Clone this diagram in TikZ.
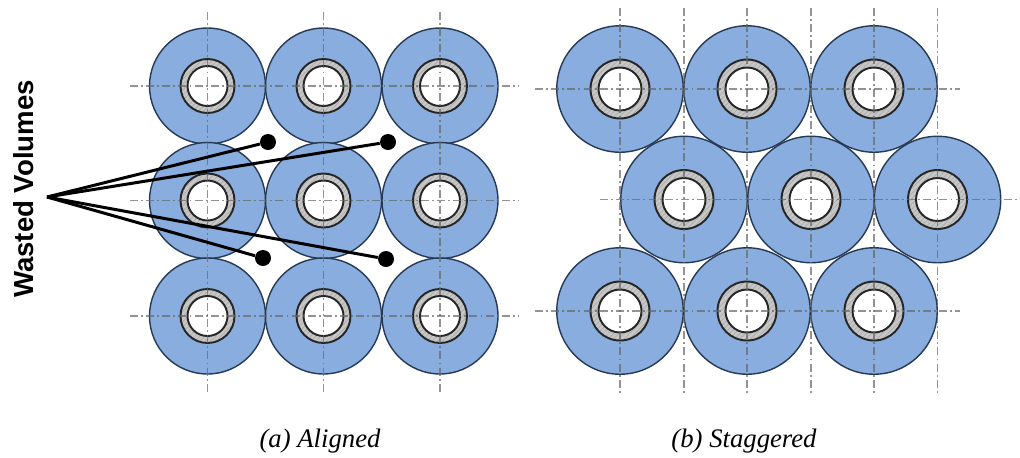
\documentclass[tikz,border=0pt]{standalone}
\usepackage{fontspec}
\setmainfont{Liberation Serif}
\setsansfont{Liberation Sans}
\usetikzlibrary{patterns}
\definecolor{pipeblue}{RGB}{137,173,222}
\definecolor{pipeline}{RGB}{38,58,85}

\begin{document}
\begin{tikzpicture}[
    x=0.02cm, y=-0.02cm,
    finA/.style={circle, draw=pipeline, line width=0.8pt, fill=pipeblue, minimum size=2.32cm, inner sep=0pt},
    finB/.style={circle, draw=pipeline, line width=0.8pt, fill=pipeblue, minimum size=2.53cm, inner sep=0pt},
    wall/.style={circle, draw=black!85, line width=1.1pt, preaction={fill=black!22}, pattern=north east lines, pattern color=black!32, inner sep=0pt},
    bore/.style={circle, draw=black!85, line width=1.1pt, fill=white, inner sep=0pt},
    axisline/.style={black!60, opacity=0.7, line width=0.6pt, dash pattern=on 4.5pt off 1.8pt on 1.1pt off 1.8pt},
    leader/.style={black, line width=1.7pt},
    blob/.style={circle, fill=black, minimum size=0.32cm, inner sep=0pt},
    subcap/.style={font=\itshape\fontsize{15.2}{18}\selectfont}
]
\useasboundingbox (0,0) rectangle (1020,457);

% Aligned bank
\foreach \px/\pxn in {207.5/1, 323.5/2, 440/3} {
  \foreach \py/\pyn in {86/1, 200.5/2, 316/3} {
    \node[finA] (al\pxn\pyn) at (\px,\py) {};
    \node[wall, minimum size=1.08cm] at (al\pxn\pyn) {};
    \node[bore, minimum size=0.8cm] at (al\pxn\pyn) {};
  }
}
\foreach \px in {207.5, 323.5, 440} \draw[axisline] (\px,12) -- (\px,392);
\foreach \py in {86, 200.5, 316} \draw[axisline] (130,\py) -- (518,\py);

% Staggered bank
\foreach \px/\pxn in {620/1, 747/2, 874/3} {
  \foreach \py/\pyn in {89/1, 311/3} {
    \node[finB] (st\pxn\pyn) at (\px,\py) {};
    \node[wall, minimum size=1.18cm] at (st\pxn\pyn) {};
    \node[bore, minimum size=0.86cm] at (st\pxn\pyn) {};
  }
}
\foreach \px/\pxn in {684/1, 811/2, 937.5/3} {
  \node[finB] (st\pxn2) at (\px,199.5) {};
  \node[wall, minimum size=1.18cm] at (st\pxn2) {};
  \node[bore, minimum size=0.86cm] at (st\pxn2) {};
}
\foreach \px in {620, 684, 747, 811, 874, 937.5} \draw[axisline] (\px,8) -- (\px,395);
\draw[axisline] (535,89) -- (960,89);
\draw[axisline] (600,199.5) -- (1020,199.5);
\draw[axisline] (535,311) -- (960,311);

% Wasted volumes
\node[font=\sffamily\bfseries\fontsize{15.7}{18}\selectfont, rotate=90] (wasted) at (24,189) {Wasted Volumes};
\coordinate (apex) at (47,197);
\node[blob] (w1) at (268,142) {};
\node[blob] (w2) at (388,142) {};
\node[blob] (w3) at (263,258) {};
\node[blob] (w4) at (386,259) {};
\draw[leader] (apex) -- (w1);
\draw[leader] (apex) -- (w2);
\draw[leader] (apex) -- (w3);
\draw[leader] (apex) -- (w4);

\node[subcap] (capa) at (320,441) {(a) Aligned};
\node[subcap] (capb) at (744,441) {(b) Staggered};
\end{tikzpicture}
\end{document}
